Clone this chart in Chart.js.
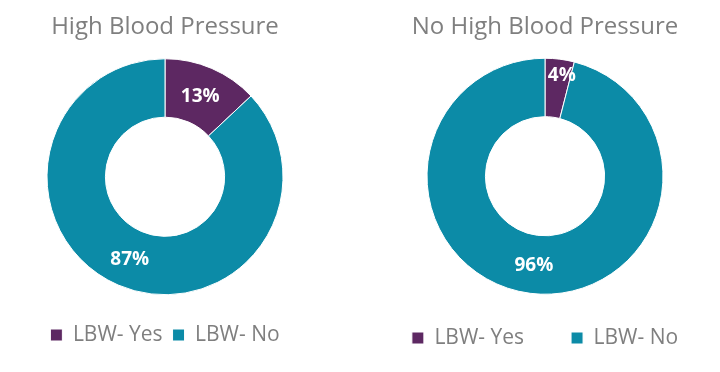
<!DOCTYPE html>
<html>
<head>
<meta charset="utf-8">
<script src="https://cdn.jsdelivr.net/npm/chart.js@4"></script>
<style>
  html, body { margin: 0; padding: 0; background: #ffffff; }
  body { width: 720px; height: 372px; position: relative; overflow: hidden; }
  .box { position: absolute; top: 0; height: 372px; }
  #b1 { left: 0px; width: 330px; }
  #b2 { left: 362px; width: 366px; }
</style>
</head>
<body>
<div class="box" id="b1"><canvas id="c1"></canvas></div>
<div class="box" id="b2"><canvas id="c2"></canvas></div>
<script>
const categories = ['LBW- Yes', 'LBW- No'];
const titles = ['High Blood Pressure', 'No High Blood Pressure'];
const highBP = [13, 87];
const noHighBP = [4, 96];
const sliceColors = ['#5D2862', '#0C8BA7'];

const FONT = "'Open Sans', 'DejaVu Sans', sans-serif";

const labelPlugin = {
  id: 'sliceLabels',
  afterDatasetsDraw(chart, args, opts) {
    const ctx = chart.ctx;
    const meta = chart.getDatasetMeta(0);
    const data = chart.data.datasets[0].data;
    ctx.save();
    ctx.fillStyle = '#ffffff';
    ctx.font = 'bold 19px ' + FONT;
    ctx.textAlign = 'center';
    ctx.textBaseline = 'middle';
    meta.data.forEach((arc, i) => {
      const p = arc.getProps(['x', 'y', 'startAngle', 'endAngle', 'innerRadius', 'outerRadius'], true);
      const mid = (p.startAngle + p.endAngle) / 2;
      const f = (opts.radial && opts.radial[i] != null) ? opts.radial[i] : 0.5;
      const r = p.innerRadius + (p.outerRadius - p.innerRadius) * f;
      const dx = (opts.shift && opts.shift[i]) ? opts.shift[i] : 0;
      ctx.fillText(data[i] + '%', p.x + Math.cos(mid) * r + dx, p.y + Math.sin(mid) * r + 1);
    });
    ctx.restore();
  }
};

function makeChart(id, title, values, legendPad, padBottom, titlePadBottom, labelOpts) {
  return new Chart(document.getElementById(id), {
    type: 'doughnut',
    data: {
      labels: categories,
      datasets: [{
        data: values,
        backgroundColor: sliceColors,
        borderColor: '#ffffff',
        borderWidth: 1,
        radius: 118,
        cutout: '50.5%'
      }]
    },
    options: {
      responsive: true,
      maintainAspectRatio: false,
      animation: false,
      layout: { padding: { top: 0, bottom: padBottom, left: 0, right: 0 } },
      plugins: {
        title: {
          display: true,
          text: title,
          color: '#7F7F7F',
          font: { family: FONT, size: 24, weight: 'normal', lineHeight: 1 },
          padding: { top: 15, bottom: titlePadBottom }
        },
        legend: {
          position: 'bottom',
          labels: {
            boxWidth: 12,
            boxHeight: 12,
            padding: legendPad,
            color: '#7F7F7F',
            font: { family: FONT, size: 21 }
          }
        },
        tooltip: { enabled: false },
        sliceLabels: labelOpts
      }
    },
    plugins: [labelPlugin]
  });
}

makeChart('c1', titles[0], highBP, 10, 16.5, 0, { radial: [0.5, 0.5] });
makeChart('c2', titles[1], noHighBP, 47, 13.5, 33, { radial: [0.73, 0.5], shift: [4, 0] });
</script>
</body>
</html>
